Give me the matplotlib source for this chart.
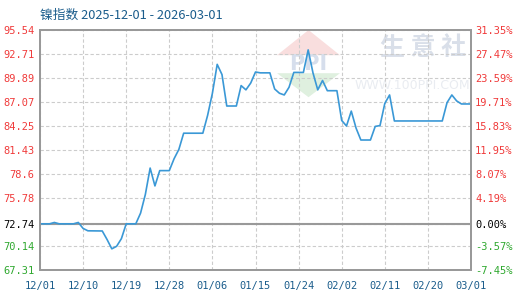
import matplotlib
matplotlib.use("Agg")
import matplotlib.pyplot as plt
import numpy as np
import pandas as pd

# nickel index (day offset from 2025-12-01)
days = [0, 2, 3, 4, 7, 8, 9, 10, 13, 14, 15, 16, 17, 18, 20, 21, 22, 23, 24,
        25, 27, 28, 29, 30, 34, 35, 36, 37, 38, 39, 41, 42, 43, 44, 45, 46, 48,
        49, 50, 51, 52, 53, 55, 56, 57, 58, 59, 60, 62, 63, 64, 65, 66, 67, 69,
        70, 71, 72, 73, 74, 84, 85, 86, 87, 88, 90]
values = [72.74, 72.74, 72.90, 72.74, 72.74, 72.90, 72.20, 71.92, 71.90, 70.90,
          69.80, 70.10, 71.00, 72.74, 72.74, 74.00, 76.20, 79.30, 77.20,
          79.00, 79.00, 80.40, 81.50, 83.40, 83.40, 85.50, 88.10, 91.50, 90.30,
          86.60, 86.60, 89.00, 88.50, 89.30, 90.60, 90.50, 90.50,
          88.60, 88.10, 87.90, 88.80, 90.55, 90.55, 93.20, 90.50, 88.50, 89.60,
          88.40, 88.40, 84.90, 84.25, 86.00, 84.00, 82.60, 82.60,
          84.20, 84.30, 86.90, 87.90, 84.84, 84.84, 87.00, 87.90, 87.20, 86.84,
          86.84]

base = 72.74
y_ticks = [67.31, 70.14, 72.74, 75.78, 78.6, 81.43, 84.25, 87.07, 89.89, 92.71, 95.54]
y_labels = ["67.31", "70.14", "72.74", "75.78", "78.6", "81.43", "84.25",
            "87.07", "89.89", "92.71", "95.54"]
pct_labels = ["-7.45%", "-3.57%", "0.00%", "4.19%", "8.07%", "11.95%",
              "15.83%", "19.71%", "23.59%", "27.47%", "31.35%"]
x_labels = ["12/01", "12/10", "12/19", "12/28", "01/06", "01/15", "01/24",
            "02/02", "02/11", "02/20", "03/01"]

start = pd.Timestamp("2025-12-01")
dates = [start + pd.Timedelta(days=d) for d in days]
x_ticks = [start + pd.Timedelta(days=9 * i) for i in range(len(x_labels))]

RED = "#f03a3a"
GREEN = "#2fa82f"
BLUE = "#1b5d8c"
mono = "DejaVu Sans Mono"
cjk = ["Noto Sans CJK SC", "DejaVu Sans"]

fig = plt.figure(figsize=(5.2, 3.0), dpi=100)
ax = fig.add_axes([40 / 520, 30 / 300, 431 / 520, 240 / 300])

# faint watermark (clipped to the plot area)
wm = dict(transform=ax.transAxes, zorder=0, clip_on=True)
ax.text(0.89, 0.925, "生 意 社", ha="center", va="center", fontsize=18,
        color="#d9dfe9", family=cjk, fontweight="bold", **wm)
ax.text(0.731, 0.77, "WWW.100PPI.COM", ha="left", va="center", fontsize=9,
        color="#e9ecf1", **wm)
ax.fill([0.55, 0.623, 0.696], [0.895, 1.0, 0.895], color="#f9dede", lw=0, **wm)
ax.fill([0.55, 0.623, 0.696], [0.82, 0.72, 0.82], color="#dff0df", lw=0, **wm)
ax.text(0.623, 0.857, "PPI", ha="center", va="center", fontsize=15,
        color="#d6deec", fontweight="bold", **wm)

ax.plot(dates, values, color="#3a98d6", lw=1.2, zorder=3)
ax.axhline(base, color="#999999", lw=1.5, zorder=2)

ax.set_xlim(start, start + pd.Timedelta(days=90))
ax.set_ylim(67.31, 95.54)
ax.set_xticks(x_ticks)
ax.set_xticklabels(x_labels)
ax.set_yticks(y_ticks)
ax.set_yticklabels(y_labels)
ax.grid(True, color="#cccccc", ls=(0, (3, 2)), lw=0.8)
ax.tick_params(length=0, labelsize=7.5)
ax.tick_params(axis="x", pad=8, colors=BLUE)
ax.tick_params(axis="y", pad=4)
for lab in ax.get_xticklabels() + ax.get_yticklabels():
    lab.set_family(mono)
for lab, v in zip(ax.get_yticklabels(), y_ticks):
    lab.set_color("black" if v == base else (RED if v > base else GREEN))

ax2 = ax.twinx()
ax2.set_ylim(ax.get_ylim())
ax2.set_yticks(y_ticks)
ax2.set_yticklabels(pct_labels)
ax2.tick_params(length=0, labelsize=7.5, pad=3)
for lab, v in zip(ax2.get_yticklabels(), y_ticks):
    lab.set_family(mono)
    lab.set_color("black" if v == base else (RED if v > base else GREEN))

for a in (ax, ax2):
    for s in a.spines.values():
        s.set_color("#999999")
        s.set_linewidth(1.3)

fig.text(40 / 520, 1 - 15 / 300, "镍指数 2025-12-01 - 2026-03-01", ha="left",
         va="center", fontsize=9.2, color=BLUE, family=cjk)

fig.savefig("out.png", dpi=100)
